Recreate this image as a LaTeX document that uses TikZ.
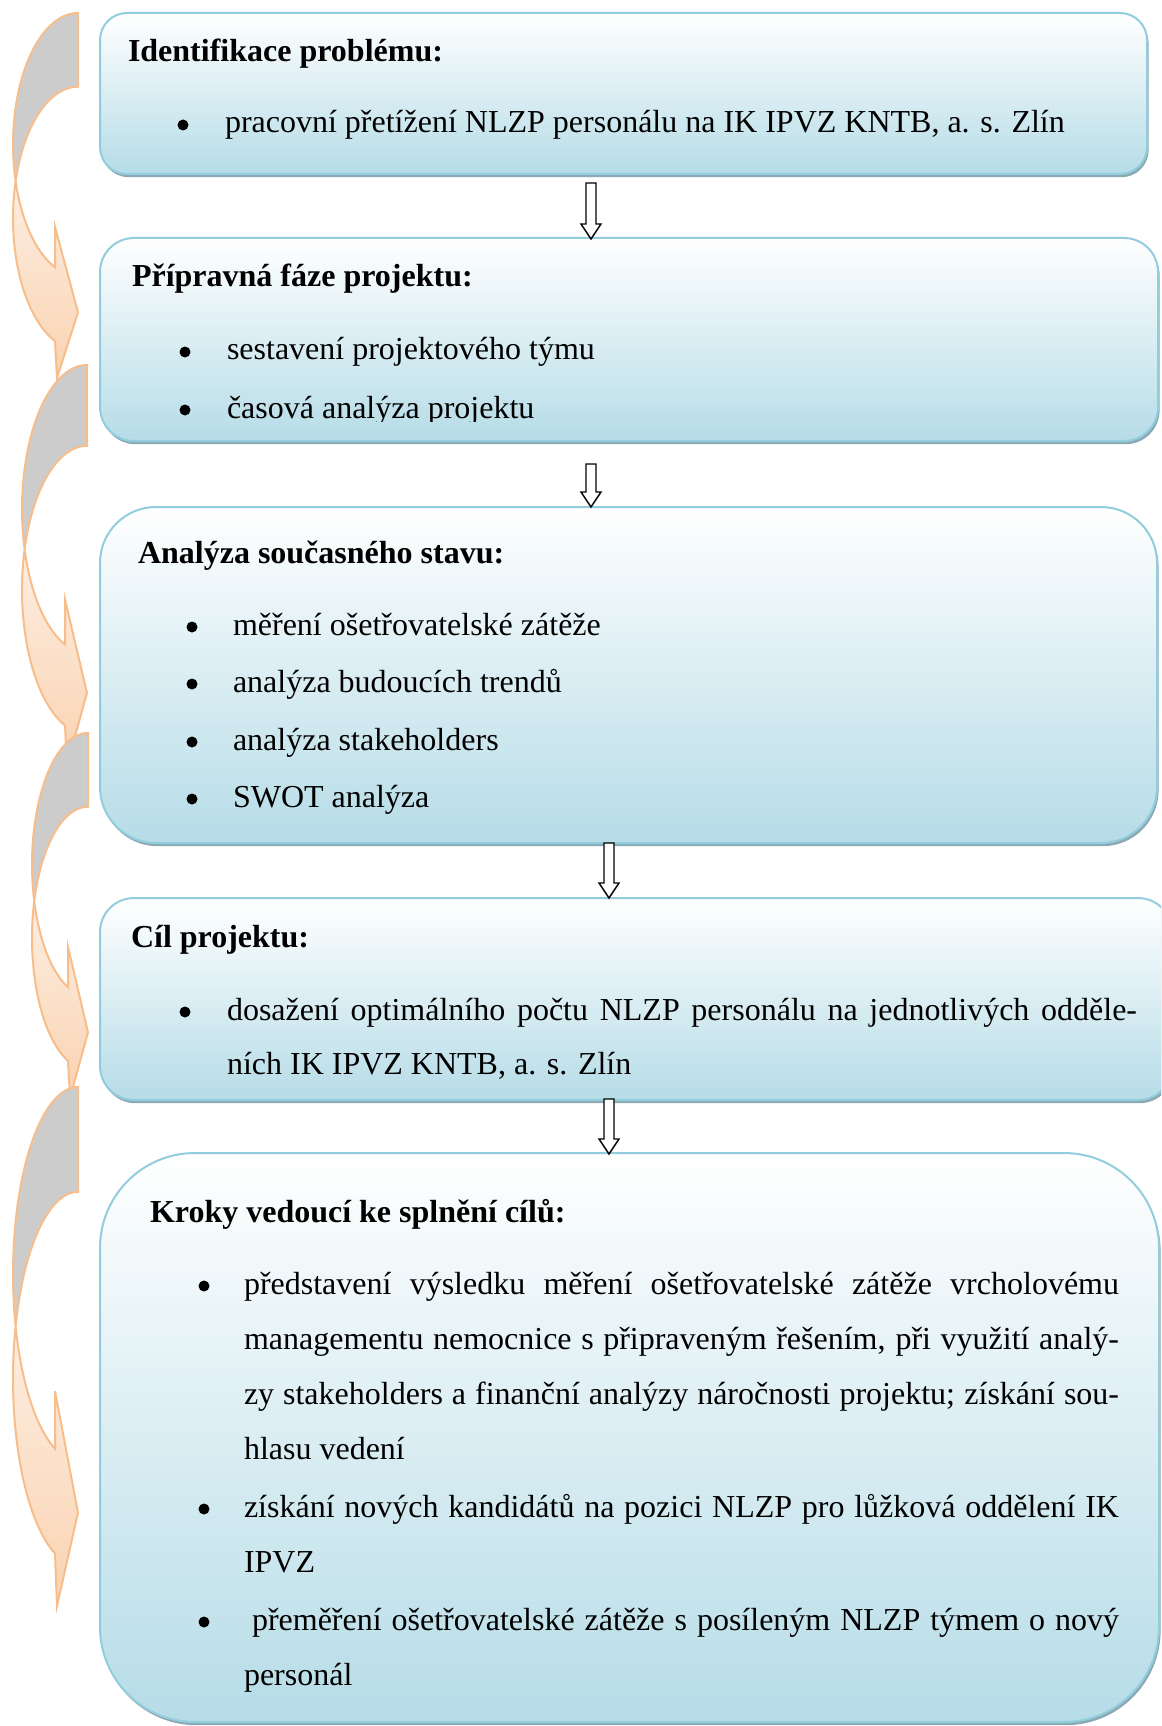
\documentclass[tikz,border=0pt]{standalone}
\usepackage{fontspec}
\setmainfont{Liberation Serif}
\usetikzlibrary{calc,shadows}
\definecolor{boxline}{RGB}{146,205,221}
\definecolor{boxfill}{RGB}{182,220,231}
\definecolor{boxshadow}{RGB}{140,168,178}
\definecolor{arrline}{RGB}{247,190,140}
\definecolor{arrgray}{RGB}{204,204,204}
\definecolor{peachlight}{RGB}{253,238,226}
\definecolor{peachdark}{RGB}{250,211,178}

\newcommand{\cvArrow}[5]{% #1 top y, #2 height, #3 right x, #4 left x, #5 head back x
  \pgfmathsetmacro{\cvHR}{0.36*#2}
  \pgfmathsetmacro{\cvTh}{0.202*#2}
  \pgfmathsetmacro{\cvRx}{#3-#4}
  \pgfmathsetmacro{\cvCa}{#1+\cvHR}
  \pgfmathsetmacro{\cvCb}{#1+\cvTh+\cvHR}
  \pgfmathsetmacro{\cvAs}{asin(\cvTh/(2*\cvHR))}
  \pgfmathsetmacro{\cvTa}{180-\cvAs}
  \pgfmathsetmacro{\cvTb}{180+\cvAs}
  \pgfmathsetmacro{\cvTJ}{acos(-(#3-#5)/\cvRx)}
  \filldraw[arrback] plot[domain=270:\cvTa,samples=40] ({#3+\cvRx*cos(\x)},{\cvCa+\cvHR*sin(\x)})
     -- plot[domain=\cvTb:270,samples=40] ({#3+\cvRx*cos(\x)},{\cvCb+\cvHR*sin(\x)}) -- cycle;
  \filldraw[arrfront] plot[domain=\cvTb:\cvTJ,samples=40] ({#3+\cvRx*cos(\x)},{\cvCb+\cvHR*sin(\x)})
     -- ({#5+2},{#1+#2}) -- (#3,{#1+0.82*#2}) -- (#5,{#1+0.586*#2})
     -- plot[domain=\cvTJ:\cvTa,samples=40] ({#3+\cvRx*cos(\x)},{\cvCa+\cvHR*sin(\x)}) -- cycle;
}

\newcommand{\blockArrow}[2]{%
  \draw[blockarr] ($(#1)+(-5,0)$) -- ($(#2)+(-5,-15)$) -- ($(#2)+(-10,-15)$) -- (#2)
     -- ($(#2)+(10,-15)$) -- ($(#2)+(5,-15)$) -- ($(#1)+(5,0)$) -- cycle;}

\begin{document}
\begin{tikzpicture}[x=0.375pt,y=-0.375pt,
  boxnode/.style={draw=boxline, line width=0.75pt, top color=white, bottom color=boxfill,
     inner sep=0pt, outer sep=0pt, anchor=north west,
     general shadow={fill=boxshadow, shadow xshift=0.6pt, shadow yshift=-1.2pt}},
  txt/.style={inner sep=0pt, outer sep=0pt, anchor=base west, font=\fontsize{12pt}{14pt}\selectfont},
  ttl/.style={txt, font=\fontsize{12pt}{14pt}\selectfont\bfseries},
  bul/.style={fill=black},
  arrback/.style={draw=arrline, line width=0.75pt, fill=arrgray},
  arrfront/.style={draw=arrline, line width=0.75pt, top color=peachlight, bottom color=peachdark},
  blockarr/.style={draw=black, line width=0.55pt, fill=white, line join=miter}]

\useasboundingbox (0,0) rectangle (1161,1726);
\clip (0,0) rectangle (1161,1726);

% left curved arrows
\cvArrow{13}{365}{78}{13}{55}
\cvArrow{365}{400}{87}{22}{65}
\cvArrow{733}{365}{88}{32}{68}
\cvArrow{1087}{519}{78}{13}{55}

% boxes
\node[boxnode, minimum width=392.625pt, minimum height=60.375pt, rounded corners=10.125pt] (b1) at (100,13) {};
\node[boxnode, minimum width=396.75pt, minimum height=76.125pt, rounded corners=12.75pt] (b2) at (100,238) {};
\node[boxnode, minimum width=396.375pt, minimum height=126pt, rounded corners=21pt] (b3) at (100,507) {};
\node[boxnode, minimum width=402pt, minimum height=75.75pt, rounded corners=12.75pt] (b4) at (100,898) {};
\node[boxnode, minimum width=397.125pt, minimum height=213.375pt, rounded corners=35.625pt] (b5) at (100,1153) {};

% box 1
\node[ttl] (t1) at (128,62) {Identifikace problému:};
\fill[bul] (183,125) circle (5.5);
\node[txt] (t1a) at (225,133) {pracovní přetížení NLZP personálu na IK IPVZ KNTB, a. s. Zlín};

% box 2
\node[ttl] (t2) at (132,287) {Přípravná fáze projektu:};
\fill[bul] (185,352) circle (5.5);
\node[txt] (t2a) at (227,360) {sestavení projektového týmu};
\fill[bul] (185,410) circle (5.5);
\begin{scope}
\clip (100,238) rectangle (1158,421);
\node[txt] (t2b) at (227,418) {časová analýza projektu};
\end{scope}

% box 3
\node[ttl] (t3) at (138,563) {Analýza současného stavu:};
\fill[bul] (192,627) circle (5.5);
\node[txt] (t3a) at (233,635) {měření ošetřovatelské zátěže};
\fill[bul] (192,684) circle (5.5);
\node[txt] (t3b) at (233,692) {analýza budoucích trendů};
\fill[bul] (192,742) circle (5.5);
\node[txt] (t3c) at (233,750) {analýza stakeholders};
\fill[bul] (192,799) circle (5.5);
\node[txt] (t3d) at (233,807) {SWOT analýza};

% box 4
\node[ttl] (t4) at (131,947) {Cíl projektu:};
\fill[bul] (185,1012) circle (5.5);
\node[txt] (t4a) at (227,1020) {\makebox[341.25pt][s]{dosažení optimálního počtu NLZP personálu na jednotlivých odděle-}};
\node[txt] (t4b) at (227,1074) {ních IK IPVZ KNTB, a. s. Zlín};

% box 5
\node[ttl] (t5) at (150,1222) {Kroky vedoucí ke splnění cílů:};
\fill[bul] (204,1286) circle (5.5);
\node[txt] (t5a) at (244,1294) {\makebox[328.125pt][s]{představení výsledku měření ošetřovatelské zátěže vrcholovému}};
\node[txt] (t5b) at (244,1349) {\makebox[328.125pt][s]{managementu nemocnice s připraveným řešením, při využití analý-}};
\node[txt] (t5c) at (244,1404) {\makebox[328.125pt][s]{zy stakeholders a finanční analýzy náročnosti projektu; získání sou-}};
\node[txt] (t5d) at (244,1459) {hlasu vedení};
\fill[bul] (204,1509) circle (5.5);
\node[txt] (t5e) at (244,1517) {\makebox[328.125pt][s]{získání nových kandidátů na pozici NLZP pro lůžková oddělení IK}};
\node[txt] (t5f) at (244,1572) {IPVZ};
\fill[bul] (204,1622) circle (5.5);
\node[txt] (t5g) at (252,1630) {\makebox[325.125pt][s]{přeměření ošetřovatelské zátěže s posíleným NLZP týmem o nový}};
\node[txt] (t5h) at (244,1685) {personál};

% block arrows between boxes
\coordinate (d1s) at (591,183); \coordinate (d1e) at (591,239);
\coordinate (d2s) at (591,464); \coordinate (d2e) at (591,507);
\coordinate (d3s) at (609,843); \coordinate (d3e) at (609,898);
\coordinate (d4s) at (609,1099); \coordinate (d4e) at (609,1154);
\blockArrow{d1s}{d1e}
\blockArrow{d2s}{d2e}
\blockArrow{d3s}{d3e}
\blockArrow{d4s}{d4e}
\end{tikzpicture}
\end{document}
